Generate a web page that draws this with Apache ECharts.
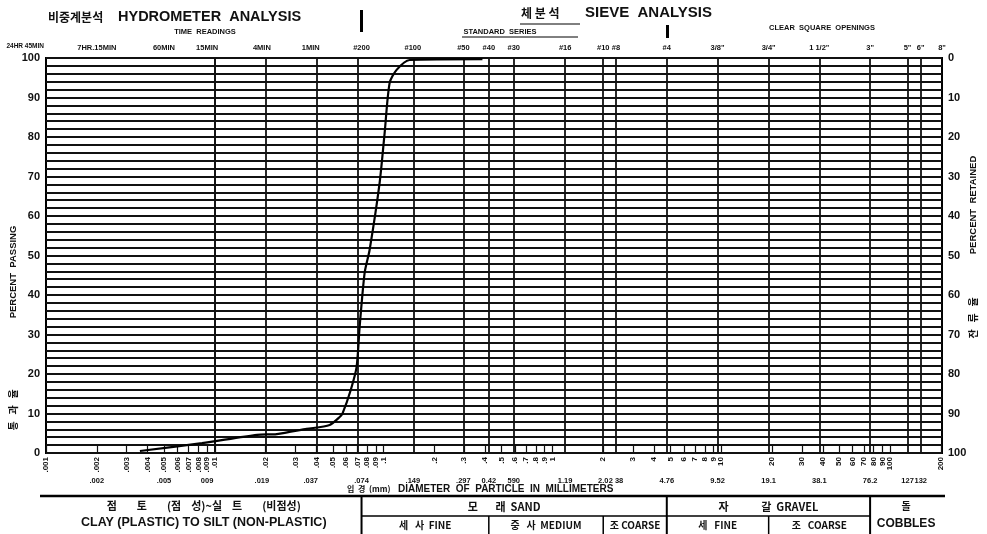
<!DOCTYPE html>
<html>
<head>
<meta charset="utf-8">
<script src="https://cdn.jsdelivr.net/npm/echarts@6/dist/echarts.min.js"></script>
<style>
html, body { margin: 0; padding: 0; background: #fff; }
#chart { width: 987px; height: 534px; }
</style>
</head>
<body>
<div id="chart"></div>
<script>
// grading curve: particle diameter (mm) and percent passing
var diameters = [0.0036, 0.0084, 0.0178, 0.0233, 0.035, 0.0479, 0.0549, 0.0572, 0.0638, 0.0692, 0.0721, 0.0772, 0.0826, 0.0947, 0.1014, 0.1086, 0.1194, 0.1425, 0.385];
var passing = [0.5, 2.5, 4.6, 4.8, 6.1, 7.1, 9.1, 10.1, 15.9, 21.8, 31.9, 45.6, 51.4, 68.4, 81.0, 93.7, 97.0, 99.5, 99.7];

// log ticks printed along the bottom edge
var minorTicks = [0.001, 0.002, 0.003, 0.004, 0.005, 0.006, 0.007, 0.008, 0.009,
    0.01, 0.02, 0.03, 0.04, 0.05, 0.06, 0.07, 0.08, 0.09,
    0.1, 0.2, 0.3, 0.4, 0.5, 0.6, 0.7, 0.8, 0.9,
    1, 2, 3, 4, 5, 6, 7, 8, 9,
    10, 20, 30, 40, 50, 60, 70, 80, 90,
    100, 200];

// second row of diameters (sieve / hydrometer sizes)
var sizeValues = [0.002, 0.005, 0.009, 0.019, 0.037, 0.074, 0.149, 0.297, 0.42, 0.59, 1.19, 2.0, 2.38, 4.76, 9.52, 19.1, 38.1, 76.2, 127, 152];
var sizeLabels = ['.002', '.005', '009', '.019', '.037', '.074', '.149', '.297', '0.42', '590', '1.19', '2.0', '2 38', '4.76', '9.52', '19.1', '38.1', '76.2', '127', '132'];

// top row: time readings and sieve numbers
var topValues = [0.002, 0.005, 0.009, 0.019, 0.037, 0.074, 0.149, 0.297, 0.42, 0.59, 1.19, 2.0, 2.38, 4.76, 9.52, 19.1, 38.1, 76.2, 127, 152, 203.2];
var topLabels = ['7HR.15MIN', '60MIN', '15MIN', '4MIN', '1MIN', '#200', '#100', '#50', '#40', '#30', '#16', '#10', '#8', '#4', '3/8"', '3/4"', '1 1/2"', '3"', '5"', '6"', '8"'];

// heavy vertical rulings
var gridLines = [0.002, 0.005, 0.009, 0.019, 0.037, 0.074, 0.149, 0.297, 0.42, 0.59, 1.19, 2.0, 2.38, 4.76, 9.52, 19.1, 38.1, 76.2, 127, 152];

var xMin = 0.001, xMax = 203.2;
var ink = '#111';
var latin = '"Liberation Sans", "DejaVu Sans", sans-serif';
var kfont = '"Noto Sans CJK KR", "Liberation Sans", sans-serif';

function lookup(vals, texts, v) {
    for (var i = 0; i < vals.length; i++) {
        if (Math.abs(vals[i] - v) / vals[i] < 1e-4) return texts[i];
    }
    return '';
}

function tickText(v) {
    var s = String(Number(v.toPrecision(3)));
    return s.replace(/^0\./, '.');
}

function logAxis(extra) {
    var a = {
        type: 'log',
        logBase: 10,
        min: xMin,
        max: xMax,
        gridIndex: 0,
        axisLine: { show: false },
        axisTick: { show: false },
        axisLabel: { show: false },
        splitLine: { show: false },
        minorTick: { show: false },
        minorSplitLine: { show: false }
    };
    for (var k in extra) a[k] = extra[k];
    return a;
}

var chart = echarts.init(document.getElementById('chart'));

var option = {
    backgroundColor: '#fff',
    animation: false,
    grid: {
        left: 46,
        right: 45,
        top: 58,
        bottom: 81,
        show: true,
        borderColor: '#000',
        borderWidth: 2
    },
    xAxis: [
        logAxis({
            position: 'bottom',
            axisTick: { show: true, inside: true, length: 8, customValues: minorTicks, lineStyle: { color: ink, width: 1.2 } },
            axisLabel: {
                show: true, customValues: minorTicks, rotate: 90, margin: 4, hideOverlap: false,
                fontSize: 8, fontWeight: 'bold', color: ink, fontFamily: latin,
                formatter: function (v) { return tickText(v); }
            }
        }),
        logAxis({
            position: 'bottom',
            offset: 20,
            axisLabel: {
                show: true, customValues: sizeValues, margin: 4, hideOverlap: false,
                showMinLabel: true, showMaxLabel: true,
                fontSize: 7.5, fontWeight: 'bold', color: ink, fontFamily: latin,
                formatter: function (v) { return lookup(sizeValues, sizeLabels, v); }
            }
        }),
        logAxis({
            position: 'top',
            axisLabel: {
                show: true, customValues: topValues, margin: 6, hideOverlap: false,
                fontSize: 7.5, fontWeight: 'bold', color: ink, fontFamily: latin,
                formatter: function (v) { return lookup(topValues, topLabels, v); }
            }
        }),
        logAxis({
            position: 'top',
            offset: 26,
            axisTick: { show: true, length: 22, customValues: [0.074], lineStyle: { color: '#000', width: 3 } }
        }),
        logAxis({
            position: 'top',
            offset: 20,
            axisTick: { show: true, length: 13, customValues: [4.76], lineStyle: { color: '#000', width: 3 } }
        })
    ],
    yAxis: [
        {
            type: 'value',
            min: 0,
            max: 100,
            interval: 2,
            position: 'left',
            axisLine: { show: false },
            axisTick: { show: false },
            splitLine: { lineStyle: { color: ink, width: 1.8 } },
            axisLabel: {
                margin: 6, fontSize: 11, fontWeight: 'bold', color: ink, fontFamily: latin,
                formatter: function (v) { return v % 10 === 0 ? v : ''; }
            }
        },
        {
            type: 'value',
            min: 0,
            max: 100,
            interval: 2,
            inverse: true,
            position: 'right',
            axisLine: { show: false },
            axisTick: { show: false },
            splitLine: { show: false },
            axisLabel: {
                margin: 6, fontSize: 11, fontWeight: 'bold', color: ink, fontFamily: latin,
                formatter: function (v) { return v % 10 === 0 ? v : ''; }
            }
        }
    ],
    series: [
        {
            type: 'line',
            xAxisIndex: 0,
            yAxisIndex: 0,
            data: diameters.map(function (d, i) { return [d, passing[i]]; }),
            smooth: 0.25,
            showSymbol: false,
            lineStyle: { color: '#000', width: 2.2 },
            markLine: {
                silent: true,
                symbol: 'none',
                label: { show: false },
                lineStyle: { color: ink, width: 1.8, type: 'solid' },
                data: gridLines.map(function (v) { return { xAxis: v }; })
            },
            z: 5
        }
    ]
};
chart.setOption(option);

function px(v) { return chart.convertToPixel({ xAxisIndex: 0 }, v); }
function mid(a, b) { return (px(a) + px(b)) / 2; }

function txt(x, y, s, font, extra) {
    var o = {
        type: 'text',
        x: x,
        y: y,
        style: { text: s, font: font, fill: ink, textAlign: 'center', textVerticalAlign: 'middle' }
    };
    if (extra) for (var k in extra) o[k] = extra[k];
    return o;
}
function ln(x1, y1, x2, y2, w) {
    return { type: 'line', shape: { x1: x1, y1: y1, x2: x2, y2: y2 }, style: { stroke: '#000', lineWidth: w } };
}

var tTop = 496, tMid = 516, tBot = 534;
var graphics = [
    { type: 'text', x: 48, y: 17, style: { text: '비중계분석', font: 'bold 12px ' + kfont, fill: ink, textVerticalAlign: 'middle' } },
    { type: 'text', x: 118, y: 17, style: { text: 'HYDROMETER  ANALYSIS', font: 'bold 14.5px ' + latin, fill: ink, textVerticalAlign: 'middle' } },
    txt(205, 32, 'TIME  READINGS', 'bold 7.5px ' + latin),
    txt(500, 32, 'STANDARD  SERIES', 'bold 7.5px ' + latin),
    ln(462, 37, 578, 37, 1),
    { type: 'text', x: 521, y: 13, style: { text: '체 분 석', font: 'bold 12px ' + kfont, fill: ink, textVerticalAlign: 'middle' } },
    { type: 'text', x: 585, y: 13, style: { text: 'SIEVE  ANALYSIS', font: 'bold 15px ' + latin, fill: ink, textVerticalAlign: 'middle' } },
    ln(520, 24, 580, 24, 1),
    txt(822, 28, 'CLEAR  SQUARE  OPENINGS', 'bold 7.5px ' + latin),
    { type: 'text', x: 44, y: 46, style: { text: '24HR 45MIN', font: 'bold 6.5px ' + latin, fill: ink, textAlign: 'right', textVerticalAlign: 'middle' } },
    txt(13, 272, 'PERCENT  PASSING', 'bold 9.5px ' + latin, { rotation: Math.PI / 2 }),
    txt(13, 410, '통   과   율', 'bold 10px ' + kfont, { rotation: Math.PI / 2 }),
    txt(973, 205, 'PERCENT  RETAINED', 'bold 9.5px ' + latin, { rotation: Math.PI / 2 }),
    txt(973, 318, '잔   류   율', 'bold 10px ' + kfont, { rotation: Math.PI / 2 }),
    { type: 'text', x: 347, y: 489, style: { text: '입  경  (mm)', font: 'bold 8px ' + kfont, fill: ink, textVerticalAlign: 'middle' } },
    { type: 'text', x: 398, y: 489, style: { text: 'DIAMETER  OF  PARTICLE  IN  MILLIMETERS', font: 'bold 10px ' + latin, fill: ink, textVerticalAlign: 'middle' } },

    // classification table
    ln(40, tTop, 945, tTop, 2.5),
    ln(px(0.074), tTop, px(0.074), tBot, 2),
    ln(px(4.76), tTop, px(4.76), tBot, 2),
    ln(px(76.2), tTop, px(76.2), tBot, 2),
    ln(px(0.074), tMid, px(76.2), tMid, 1.5),
    ln(px(0.42), tMid, px(0.42), tBot, 1.5),
    ln(px(2.0), tMid, px(2.0), tBot, 1.5),
    ln(px(19.1), tMid, px(19.1), tBot, 1.5),
    txt(mid(0.001, 0.074), 506, '점        토        (점    성)~실    트        (비점성)', 'bold 11px ' + kfont),
    txt(mid(0.001, 0.074), 523, 'CLAY (PLASTIC) TO SILT (NON-PLASTIC)', 'bold 12.5px ' + latin),
    txt(mid(0.074, 4.76) - 10, 507, '모       래  SAND', 'bold 11px ' + kfont),
    txt(mid(0.074, 0.42), 525, '세   사  FINE', 'bold 10px ' + kfont),
    txt(mid(0.42, 2.0), 525, '중   사  MEDIUM', 'bold 10px ' + kfont),
    txt(mid(2.0, 4.76), 525, '조 COARSE', 'bold 10px ' + kfont),
    txt(mid(4.76, 76.2), 507, '자             갈  GRAVEL', 'bold 11px ' + kfont),
    txt(mid(4.76, 19.1), 525, '세   FINE', 'bold 10px ' + kfont),
    txt(mid(19.1, 76.2), 525, '조   COARSE', 'bold 10px ' + kfont),
    txt(mid(76.2, 203.2), 506, '돌', 'bold 10px ' + kfont),
    txt(mid(76.2, 203.2), 524, 'COBBLES', 'bold 12px ' + latin)
];
chart.setOption({ graphic: graphics });
</script>
</body>
</html>
